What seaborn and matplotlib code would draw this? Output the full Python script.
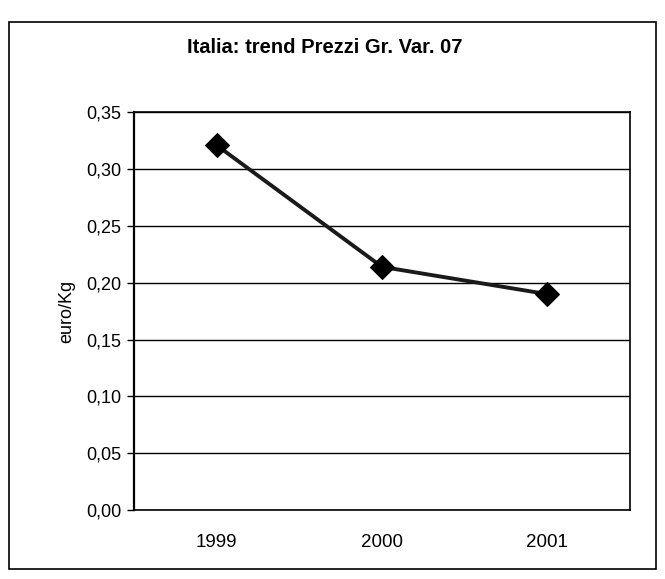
import matplotlib
matplotlib.use("Agg")
import matplotlib.pyplot as plt
import seaborn as sns
import pandas as pd
from matplotlib.patches import Rectangle
from matplotlib.ticker import FixedLocator, FuncFormatter

sns.set_theme(style="white")
plt.rcParams['font.family'] = ['Liberation Sans', 'DejaVu Sans']
plt.rcParams['text.color'] = 'black'
plt.rcParams['axes.labelcolor'] = 'black'
plt.rcParams['xtick.color'] = 'black'
plt.rcParams['ytick.color'] = 'black'

# Data
years = ["1999", "2000", "2001"]
prices = [0.321, 0.214, 0.190]

df = pd.DataFrame({"anno": years, "prezzo": prices})

fig = plt.figure(figsize=(6.65, 5.79), dpi=100)
ax = fig.add_axes([0.2015, 0.119, 0.746, 0.687])

sns.lineplot(data=df, x="anno", y="prezzo", ax=ax, color="#1a1a1a",
             linewidth=2.8, marker="D", markersize=12,
             markeredgecolor="black", markerfacecolor="black", sort=False)

ax.set_xlim(-0.5, 2.5)
ax.set_ylim(0, 0.35)
ax.yaxis.set_major_locator(FixedLocator([i * 0.05 for i in range(8)]))
ax.yaxis.set_major_formatter(FuncFormatter(lambda v, p: f"{v:.2f}".replace(".", ",")))
ax.grid(axis="y", color="black", linewidth=1.0)
ax.grid(axis="x", visible=False)

# Excel style category ticks between the categories
ax.set_xticks([0, 1, 2])
ax.set_xticks([0.5, 1.5], minor=True)
ax.tick_params(axis="x", which="major", length=0, pad=17, labelsize=13.5)
ax.tick_params(axis="x", which="minor", length=5, width=1, direction="out", color="black")
ax.tick_params(axis="y", length=5, width=1, direction="out", color="black",
               labelsize=13, pad=4, left=True)

for side in ["left", "right", "top", "bottom"]:
    ax.spines[side].set_visible(True)
    ax.spines[side].set_color("black")
    ax.spines[side].set_linewidth(1.2)
ax.spines["left"].set_linewidth(1.6)

ax.set_xlabel("")
ax.set_ylabel("euro/Kg", fontsize=13, labelpad=8)

fig.text(0.489, 0.918, "Italia: trend Prezzi Gr. Var. 07", ha="center", va="center",
         fontsize=14.5, fontweight="bold")

# Chart area border
fig.patches.append(Rectangle((0.014, 0.017), 0.972, 0.945, transform=fig.transFigure,
                             fill=False, edgecolor="black", linewidth=1.2))

fig.savefig("out.png", dpi=100, facecolor="white")
